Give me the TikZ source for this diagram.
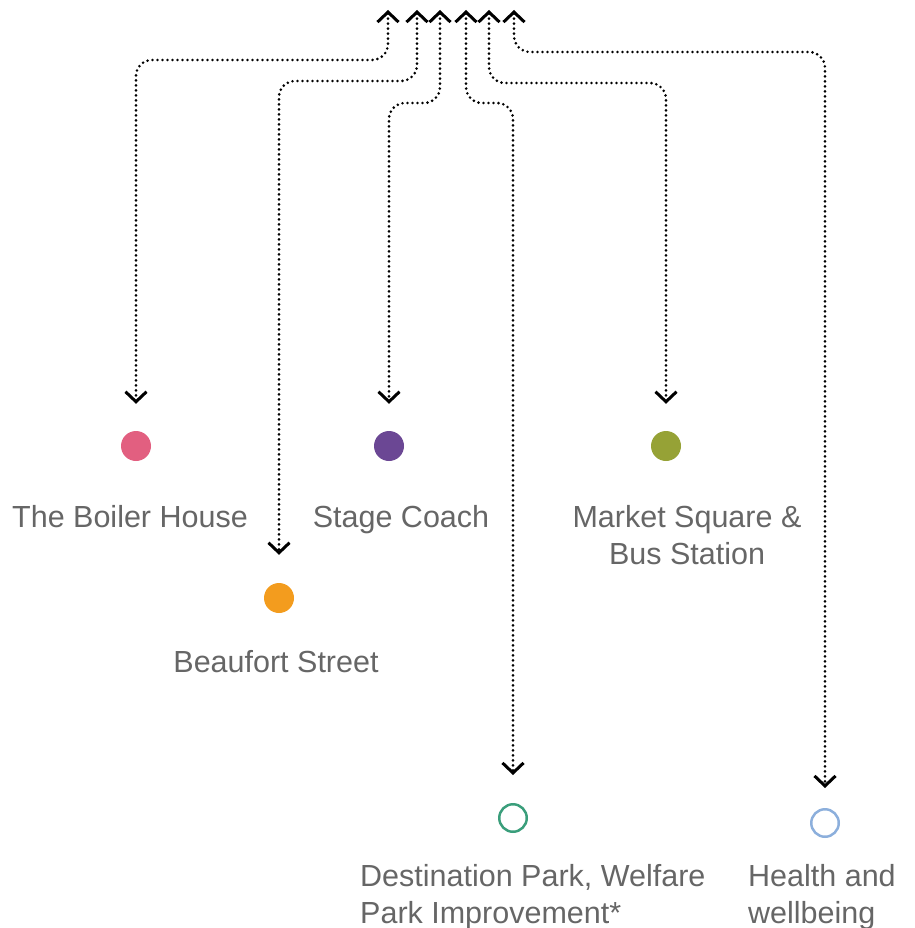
\documentclass[tikz,border=0pt]{standalone}
\usepackage{fontspec}
\setmainfont{Liberation Sans}
\usetikzlibrary{arrows.meta}

\definecolor{boilerpink}{HTML}{E25F80}
\definecolor{coachpurple}{HTML}{6B4794}
\definecolor{marketolive}{HTML}{96A236}
\definecolor{beaufortorange}{HTML}{F39C1E}
\definecolor{parkgreen}{HTML}{3A9E7B}
\definecolor{healthblue}{HTML}{8CAFDC}
\definecolor{labelgray}{HTML}{666666}

\tikzset{
  dotarrow/.tip={Straight Barb[length=10pt,width=21pt,line width'=3pt]},
  link/.style={line width=2.9pt, line cap=round, dash pattern=on 0pt off 5pt,
    rounded corners=16pt, dotarrow-dotarrow},
  spot/.style={circle, minimum size=30pt, inner sep=0pt},
  ring/.style={circle, draw, line width=2.5pt, minimum size=27.5pt, inner sep=0pt},
  place/.style={text=labelgray, font=\fontsize{30.5}{37}\selectfont, inner sep=0pt}
}

\begin{document}
\begin{tikzpicture}[x=1pt,y=-1pt]
    \useasboundingbox (0,0) rectangle (914,928);

    % Hub at the top
    \coordinate (topA) at (388,10);
    \coordinate (topB) at (417,10);
    \coordinate (topC) at (440,10);
    \coordinate (topD) at (466,10);
    \coordinate (topE) at (489,10);
    \coordinate (topF) at (514,10);

    % Projects
    \node[spot, fill=boilerpink] (boiler) at (136,446) {};
    \node[spot, fill=coachpurple] (coach) at (389,446) {};
    \node[spot, fill=marketolive] (market) at (666,446) {};
    \node[spot, fill=beaufortorange] (beaufort) at (279,598) {};
    \node[ring, draw=parkgreen] (park) at (513,818) {};
    \node[ring, draw=healthblue] (health) at (825,823) {};

    % Labels (base = last line)
    \node[place, anchor=base] (boilertxt) at (130,527) {The Boiler House};
    \node[place, anchor=base] (coachtxt) at (401,527) {Stage Coach};
    \node[place, anchor=base, align=center] (markettxt) at (687,564) {Market Square \&\\Bus Station};
    \node[place, anchor=base] (beauforttxt) at (276,672) {Beaufort Street};
    \node[place, anchor=base west, align=left] (parktxt) at (360,923) {Destination Park, Welfare\\Park Improvement*};
    \node[place, anchor=base west, align=left] (healthtxt) at (748,923) {Health and\\wellbeing};

    % Links
    \draw[link, shorten >=27pt] (topA) -- ++(0,50) -| (boiler.north);
    \draw[link, shorten >=28pt] (topB) -- ++(0,71) -| (beaufort.north);
    \draw[link, shorten >=27pt] (topC) -- ++(0,93) -| (coach.north);
    \draw[link, shorten >=28pt] (topD) -- ++(0,93) -| (park.north);
    \draw[link, shorten >=27pt] (topE) -- ++(0,73) -| (market.north);
    \draw[link, shorten >=20pt] (topF) -- ++(0,42) -| (health.north);
\end{tikzpicture}
\end{document}
